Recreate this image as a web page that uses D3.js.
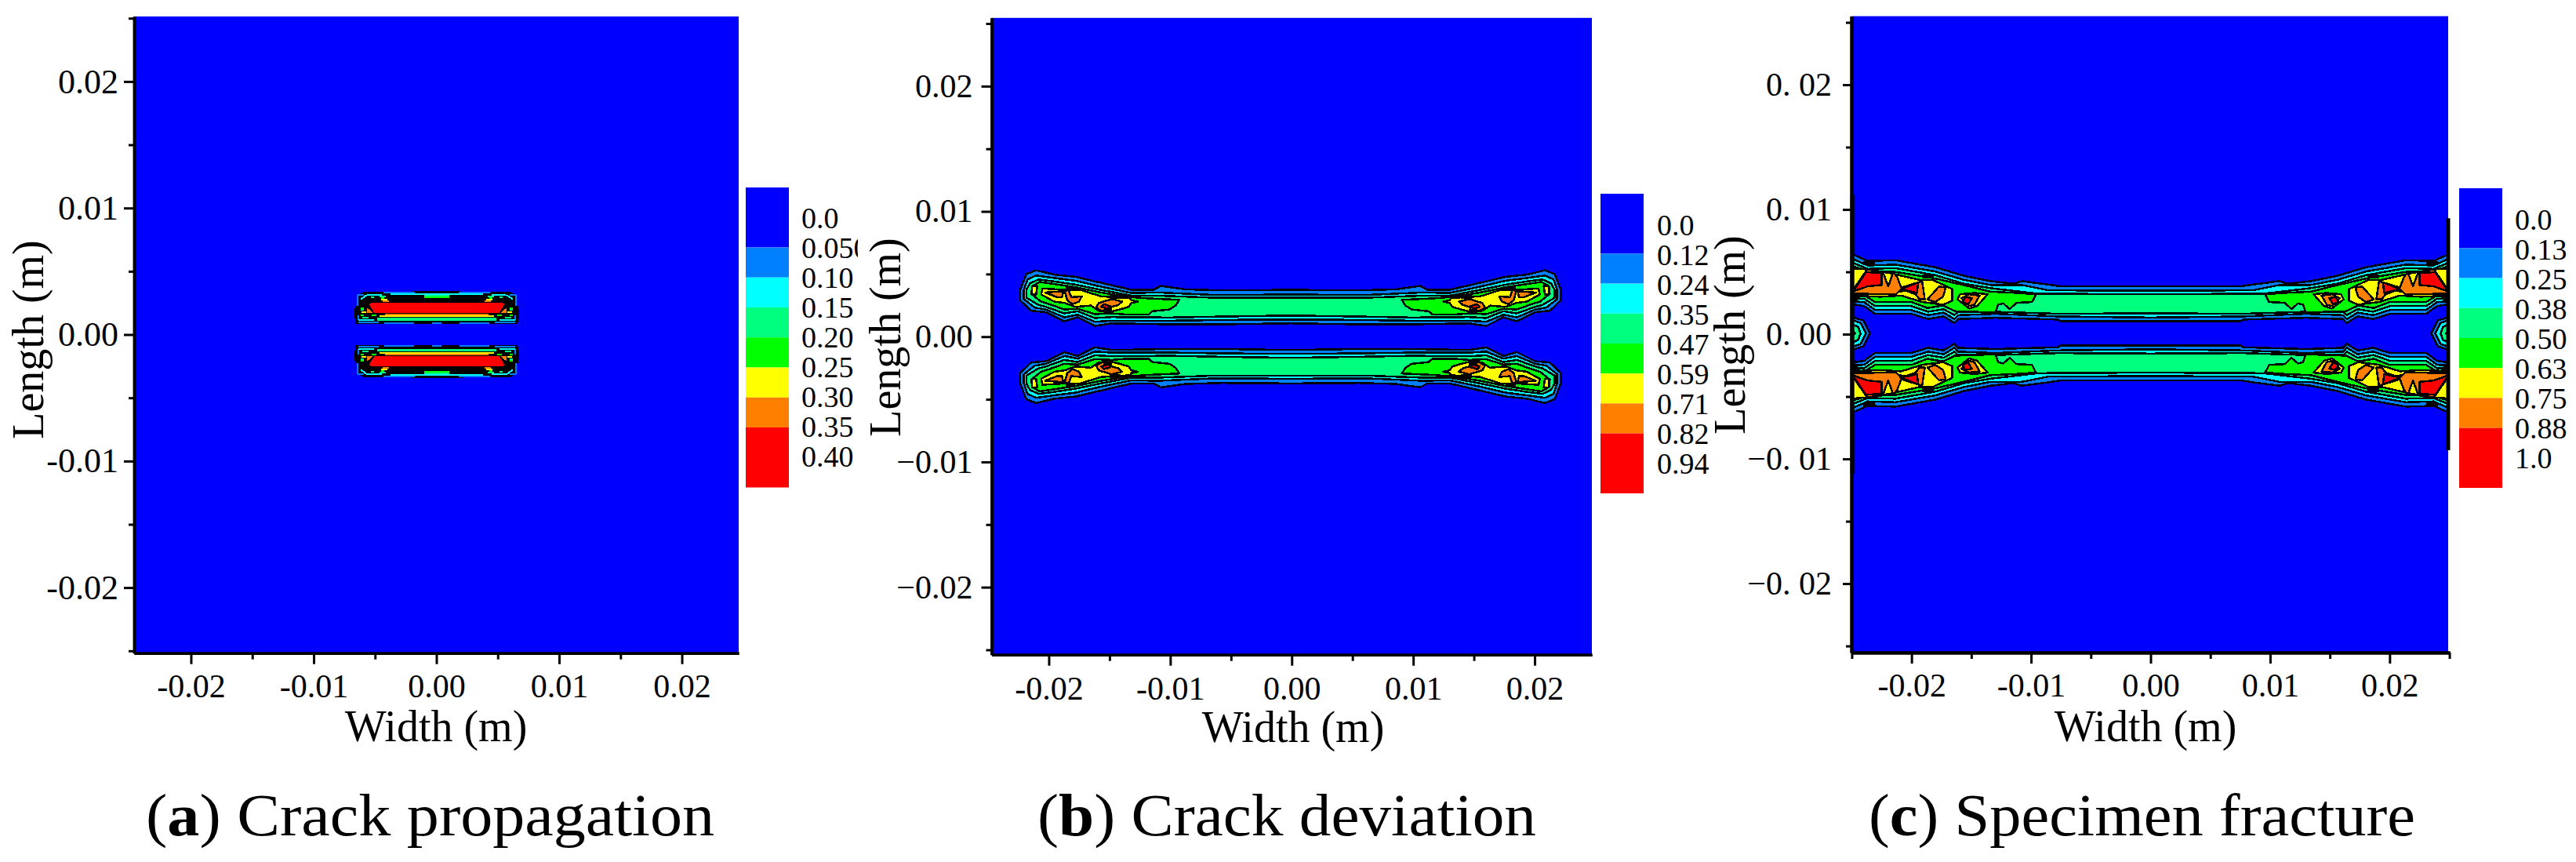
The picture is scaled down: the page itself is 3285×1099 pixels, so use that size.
<!DOCTYPE html>
<html>
<head>
<meta charset="utf-8">
<script src="https://cdnjs.cloudflare.com/ajax/libs/d3/7.8.5/d3.min.js"></script>
<style>
    html, body { margin: 0; padding: 0; background: #fff; }
    svg { display: block; }
    text { font-family: 'Liberation Serif', serif; fill: #000; }
</style>
</head>
<body>
<svg id="chart" width="3285" height="1099"></svg>
<script>
(function () {
    'use strict';

    const majorTicks = [-0.02, -0.01, 0, 0.01, 0.02];
    const minorTicks = [-0.025, -0.015, -0.005, 0.005, 0.015, 0.025];
    const hyphenLabels = ['-0.02', '-0.01', '0.00', '0.01', '0.02'];
    const minusLabels = ['\u22120.02', '\u22120.01', '0.00', '0.01', '0.02'];
    const spacedLabels = ['\u22120. 02', '\u22120. 01', '0. 00', '0. 01', '0. 02'];

    const levelColors = ['#0000ff', '#007fff', '#00ffff', '#00ff7f', '#00ff00', '#ffff00', '#ff7f00', '#ff0000'];
    const levelUnits = [2, 1, 1, 1, 1, 1, 1, 2];
    const aLegend = ['0.0', '0.050', '0.10', '0.15', '0.20', '0.25', '0.30', '0.35', '0.40'];
    const bLegend = ['0.0', '0.12', '0.24', '0.35', '0.47', '0.59', '0.71', '0.82', '0.94'];
    const cLegend = ['0.0', '0.13', '0.25', '0.38', '0.50', '0.63', '0.75', '0.88', '1.0'];

    // contours in mm from the crack centre, one quadrant only.
    // a ring that starts on x = 0 carries on through the mirrored side
    const aCore = [[[0, 3.41], [5.93, 3.35], [6.39, 3.12], [6.46, 2.26], [6.62, 2.26], [6.67, 1.44], [6.56, 0.86], [0, 0.86]]];
    const aOrange = [[[5.67, 2.16], [5.08, 1.68], [5.67, 1.64]]];
    const aRed = [[[0, 2.51], [5.29, 2.51], [5.54, 2.4], [5.08, 1.68], [0, 1.64]]];
    // level, x1, y1, x2, y2
    const aStreaks = [
        [1, 1.8, 3.29, 4.34, 3.29], [2, 0, 3.16, 3.77, 3.16], [3, 0, 3.04, 1.0, 3.04], [4, 0, 2.92, 1.0, 2.92],
        [5, 4.02, 2.73, 4.53, 2.73], [6, 3.89, 2.61, 4.4, 2.61], [6, 0, 1.56, 4.19, 1.56], [5, 0, 1.44, 4.66, 1.44],
        [3, 0, 1.29, 4.83, 1.29], [3, 0, 1.17, 4.83, 1.17], [1, 1.86, 0.88, 4.23, 0.88], [1, 0, 0.88, 0.38, 0.88],
        [1, 5.93, 3.12, 6.39, 3.12], [1, 6.39, 3.12, 6.39, 2.26], [1, 6.35, 1.54, 6.35, 1.13], [1, 4.7, 0.97, 6.35, 0.97],
        [2, 4.44, 3.12, 5.71, 3.08], [2, 5.71, 3.08, 6.14, 2.77], [5, 5.71, 1.75, 6.07, 1.75], [4, 4.91, 1.54, 5.29, 1.54],
        [4, 5.93, 2.05, 6.18, 2.05], [3, 5.93, 1.95, 6.18, 1.95], [3, 5.08, 2.92, 5.33, 2.92], [3, 4.13, 2.98, 4.66, 2.98],
        [4, 4.27, 2.85, 4.49, 2.85], [4, 5.93, 1.54, 6.14, 1.54], [2, 5.08, 1.17, 6.35, 1.13], [3, 5.5, 1.33, 6.03, 1.33]
    ];

    const bLevel1 = [[[0, 3.72], [5.6, 3.68], [8.6, 3.76], [10.6, 4.03], [11.2, 3.72], [13.0, 3.72], [15.3, 4.24], [17.6, 4.76], [19.3, 4.93], [20.8, 5.28], [21.6, 4.97], [22.1, 3.72], [22.1, 2.89], [21.2, 2.06], [20.0, 1.95], [18.5, 1.23], [17.4, 1.54], [16.0, 0.85], [14.6, 1.06], [9.9, 0.98], [5.6, 0.98], [0, 1.06]]];
    const bLevel2 = [[[0, 3.35], [6.1, 3.31], [10.8, 3.51], [13.0, 3.47], [15.3, 3.93], [17.6, 4.45], [19.3, 4.66], [20.8, 4.86], [21.5, 4.55], [21.8, 3.72], [21.8, 2.99], [20.9, 2.31], [20.0, 2.16], [18.5, 1.54], [17.4, 1.75], [16.0, 1.19], [14.6, 1.27], [9.9, 1.27], [5.6, 1.33], [0, 1.37]]];
    const bLevel3 = [[[0, 3.10], [6.3, 3.10], [10.8, 3.26], [13.0, 3.26], [15.5, 3.72], [17.6, 4.14], [19.3, 4.39], [20.6, 4.55], [21.3, 4.24], [21.6, 3.72], [21.6, 3.10], [20.6, 2.52], [20.0, 2.37], [18.5, 1.85], [17.4, 2.02], [16.0, 1.48], [14.6, 1.56], [9.9, 1.52], [5.6, 1.60], [0, 1.68]]];
    const bLevel4 = [[[9.1, 2.93], [11.6, 3.04], [13.0, 3.14], [15.5, 3.51], [17.6, 3.93], [19.3, 4.18], [20.5, 4.35], [21.1, 4.03], [21.2, 3.41], [20.4, 2.79], [19.7, 2.58], [18.5, 2.16], [17.4, 2.22], [16.0, 1.79], [14.6, 1.85], [13.3, 1.75], [11.6, 1.75], [11.3, 2.02], [9.9, 2.16], [9.4, 2.47]]];
    const bLevel5 = [
        [[12.48, 2.79], [13.0, 2.89], [13.12, 3.06], [14.19, 3.14], [15.47, 3.2], [17.18, 3.72], [18.46, 3.72], [20.28, 3.83], [20.38, 3.35], [19.32, 2.79], [18.46, 2.68], [17.6, 2.37], [16.32, 2.47], [15.68, 2.06], [14.83, 1.95], [13.97, 2.16], [13.23, 2.37], [13.01, 2.68]],
        [[20.7, 4.03], [21.13, 4.03], [21.13, 3.35], [20.8, 3.35]]
    ];
    const bLevel6 = [
        [[13.76, 2.79], [14.62, 2.99], [15.68, 2.68], [15.9, 2.31], [15.47, 2.06], [14.83, 2.02], [14.62, 2.37], [14.08, 2.52]],
        [[17.07, 3.2], [17.93, 3.14], [18.14, 3.72], [18.46, 3.62], [18.25, 2.89], [17.82, 2.58], [17.29, 2.79]],
        [[18.57, 3.62], [20.06, 3.51], [19.1, 3.14], [18.68, 3.14]]
    ];
    const bLevel7 = [[[14.72, 2.43], [15.26, 2.58], [15.47, 2.37], [14.94, 2.22]]];
    const bCrowded = [
        [[17.6, 4.0], [18.4, 4.1], [18.4, 3.7], [17.6, 3.7]],
        [[13.9, 3.3], [14.8, 3.3], [14.8, 3.0], [13.9, 3.0]],
        [[14.6, 2.2], [15.3, 2.2], [15.3, 1.85], [14.6, 1.85]]
    ];

    const cLevel1 = [
        [[0, 3.76], [7.5, 3.76], [8.5, 3.91], [10.7, 4.18], [11.4, 3.97], [13.3, 4.18], [15.5, 4.6], [17.9, 5.29], [21.2, 5.85], [23.5, 5.79], [25, 6.42], [25, 2.36], [23.8, 2.19], [22.9, 1.57], [19.9, 1.57], [18.5, 1.15], [17.2, 1.36], [16.3, 0.84], [16, 1.15], [12.9, 1.25], [7.7, 1.11], [7.5, 0.98], [0, 0.98]],
        [[25, 1.36], [23.87, 1.04], [23.33, 0], [23.87, -1.04], [25, -1.36]]
    ];
    const cLevel2 = [
        [[0, 3.41], [8.5, 3.45], [10.7, 3.87], [13.3, 3.87], [15.5, 4.28], [17.9, 4.95], [21.2, 5.5], [23.5, 5.43], [25, 6.06], [25, 2.57], [23.8, 2.51], [22.9, 1.88], [19.9, 1.88], [18.5, 1.46], [17.2, 1.67], [16.3, 1.15], [16, 1.46], [12.9, 1.57], [7.7, 1.36], [0, 1.27]],
        [[25, 1.15], [24.09, 0.84], [23.65, 0], [24.09, -0.84], [25, -1.15]]
    ];
    const cLevel3 = [
        [[0, 3.13], [9.4, 3.18], [13.3, 3.62], [15.5, 3.97], [17.9, 4.66], [21.2, 5.22], [23.5, 5.16], [25, 5.75], [25, 2.78], [23.8, 2.78], [22.9, 2.19], [19.9, 2.19], [18.5, 1.73], [17.2, 1.94], [16.3, 1.46], [16, 1.73], [12.9, 1.73], [7.7, 1.57], [0, 1.61]],
        [[25, 0.84], [24.3, 0.52], [24.09, 0], [24.3, -0.52], [25, -0.84]]
    ];
    const cLevel4 = [
        [[9.52, 3.13], [11.15, 3.24], [13.33, 3.34], [15.07, 3.76], [17.89, 4.39], [21.15, 4.91], [23.54, 5.02], [25, 5.43], [25, 2.93], [23.76, 3.03], [22.89, 2.51], [19.85, 2.51], [18.54, 2.03], [17.24, 2.24], [16.26, 1.78], [12.89, 1.67], [12.67, 2.3], [12.24, 2.4], [11.7, 1.94], [11.15, 2.45], [9.85, 2.51]],
        [[25, 0.31], [24.52, 0], [25, -0.31]]
    ];
    const cLevel5 = [
        [[13.54, 3.13], [14.63, 3.24], [15.83, 3.13], [16.04, 2.72], [15.07, 1.99], [14.41, 2.19]],
        [[16.48, 3.55], [18.11, 4.28], [19.2, 4.28], [21.59, 4.81], [23.54, 5.12], [25, 5.22], [25, 3.03], [22.46, 2.93], [20.72, 3.03], [18.98, 2.51], [17.24, 2.3], [16.48, 2.61]]
    ];
    const cLevel6 = [
        [[14.2, 3.03], [15.07, 3.13], [15.72, 2.82], [15.07, 2.19], [14.63, 2.3]],
        [[17.02, 3.66], [17.57, 3.76], [18.54, 2.72], [17.89, 2.51], [17.24, 2.93]],
        [[18.76, 2.72], [18.98, 4.18], [20.72, 3.66], [21.04, 4.49], [21.37, 4.91], [21.8, 3.76], [22.24, 4.91], [23.54, 5.12], [24.74, 3.45], [25, 3.2], [22.46, 3.13], [21.15, 3.13], [20.72, 3.55], [19.52, 3.13], [19.2, 2.72]]
    ];
    const cLevel7 = [
        [[14.85, 2.82], [15.39, 2.93], [15.61, 2.51], [15.17, 2.3]],
        [[19.3, 4.08], [20.39, 3.66], [20.83, 3.34], [20.28, 3.45], [19.41, 3.24]],
        [[22.35, 4.81], [23.65, 4.91], [24.74, 3.34], [23.54, 3.76], [22.35, 3.87]]
    ];
    const cCrowded = [
        [[18.0, 4.7], [19.0, 4.7], [19.0, 4.4], [18.0, 4.4]],
        [[23.9, 3.2], [25, 3.2], [25, 2.3], [24.6, 2.3]],
        [[22.9, 5.8], [23.9, 5.8], [23.9, 5.5], [22.9, 5.5]]
    ];
    // thick black runs on the specimen edge: x, half length (m)
    const cEdges = [[0.0249, 0.0093], [-0.02495, 0.0112]];

    const svg = d3.select('#chart');

    const panels = [
        {
            id: 'a', left: 171, right: 942, top: 21, bottom: 832.7, plotRight: 942,
            xDomain: [-0.02463, 0.02463], yDomain: [-0.02518, 0.02514], axisWidth: 3.5,
            centre: [0.03, 0], calib: [1.006, 1.006], lineWidth: 1,
            bands: [null, null, null, null, null, null, aOrange, aRed], core: aCore, streaks: aStreaks, crowded: [],
            yLabels: hyphenLabels, xLabels: hyphenLabels, yFont: 44, yPad: 7, yTick: 13,
            xLabelBase: 889.5, titleBase: 945, titleX: 556, lengthX: 55, lengthY: 433,
            bar: { x0: 951, x1: 1006, top: 239, bottom: 621.5, text: 1022, base: 291 }, legend: aLegend,
            caption: { letter: 'a', rest: ' Crack propagation', x: 186, len: 725 }
        },
        {
            id: 'b', left: 1264.5, right: 2030, top: 22.8, bottom: 834.7, plotRight: 2030,
            xDomain: [-0.02471, 0.02471], yDomain: [-0.02539, 0.02545], axisWidth: 3.5,
            centre: [-0.1, 0], calib: [1.007, 1.004], lineWidth: 2.5,
            bands: [null, bLevel1, bLevel2, bLevel3, bLevel4, bLevel5, bLevel6, bLevel7], crowded: bCrowded,
            yLabels: minusLabels, xLabels: hyphenLabels, yFont: 42, yPad: 11, yTick: 13,
            xLabelBase: 892, titleBase: 946, titleX: 1649, lengthX: 1148, lengthY: 430,
            bar: { x0: 2041, x1: 2096, top: 247, bottom: 629, text: 2113, base: 299.5 }, legend: bLegend,
            caption: { letter: 'b', rest: ' Crack deviation', x: 1323, len: 636 }
        },
        {
            id: 'c', left: 2361, right: 3124, top: 20.6, bottom: 832, plotRight: 3122,
            xDomain: [-0.02503, 0.02503], yDomain: [-0.02553, 0.0255], axisWidth: 4,
            centre: [0, 0.06], calib: [1.007, 1.003], lineWidth: 2.5,
            bands: [null, cLevel1, cLevel2, cLevel3, cLevel4, cLevel5, cLevel6, cLevel7], crowded: cCrowded,
            yLabels: spacedLabels, xLabels: hyphenLabels, yFont: 42, yPad: 14, yTick: 11,
            xLabelBase: 888, titleBase: 945, titleX: 2736, lengthX: 2225, lengthY: 427,
            bar: { x0: 3136, x1: 3191, top: 240, bottom: 622, text: 3207, base: 292.7 }, legend: cLegend,
            caption: { letter: 'c', rest: ' Specimen fracture', x: 2383, len: 697 },
            edges: cEdges
        }
    ];

    panels.forEach(drawPanel);

    function drawPanel(p) {
        const xScale = d3.scaleLinear().domain(p.xDomain).range([p.left, p.right]);
        const yScale = d3.scaleLinear().domain(p.yDomain).range([p.bottom, p.top]);
        const g = svg.append('g').attr('class', 'panel-' + p.id);

        g.append('clipPath').attr('id', 'clip-' + p.id)
            .append('rect')
            .attr('x', p.left).attr('y', p.top)
            .attr('width', p.plotRight - p.left).attr('height', p.bottom - p.top);

        g.append('rect')
            .attr('x', p.left).attr('y', p.top)
            .attr('width', p.plotRight - p.left).attr('height', p.bottom - p.top)
            .attr('fill', levelColors[0]);

        const plot = g.append('g')
            .attr('clip-path', `url(#clip-${p.id})`)
            .attr('shape-rendering', 'crispEdges');

        const line = d3.line()
            .x(d => xScale((p.centre[0] + d[0] * p.calib[0]) / 1000))
            .y(d => yScale((p.centre[1] + d[1] * p.calib[1]) / 1000));

        function drawRings(rings, fill, stroke) {
            [1, -1].forEach((sy) => {
                rings.forEach((ring) => {
                    const quadrant = ring.map(d => [d[0], sy * d[1]]);
                    const mirrored = quadrant.map(d => [-d[0], d[1]]);
                    const shapes = ring[0][0] === 0
                        ? [quadrant.concat(mirrored.reverse())]
                        : [quadrant, mirrored];
                    shapes.forEach((shape) => {
                        plot.append('path')
                            .attr('d', line(shape) + 'Z')
                            .attr('fill', fill)
                            .attr('stroke', stroke ? '#000' : 'none')
                            .attr('stroke-width', p.lineWidth)
                            .attr('stroke-linejoin', 'round');
                    });
                });
            });
        }

        if (p.core) {
            drawRings(p.core, '#000', false);
        }
        if (p.streaks) {
            [1, -1].forEach((sy) => {
                [1, -1].forEach((sx) => {
                    p.streaks.forEach((s) => {
                        plot.append('path')
                            .attr('d', line([[sx * s[1], sy * s[2]], [sx * s[3], sy * s[4]]]))
                            .attr('fill', 'none')
                            .attr('stroke', levelColors[s[0]])
                            .attr('stroke-width', 2);
                    });
                });
            });
        }
        p.bands.forEach((rings, i) => {
            if (rings) {
                drawRings(rings, levelColors[i], true);
            }
        });
        drawRings(p.crowded, '#000', false);

        (p.edges || []).forEach((e) => {
            g.append('line')
                .attr('x1', xScale(e[0])).attr('x2', xScale(e[0]))
                .attr('y1', yScale(e[1])).attr('y2', yScale(-e[1]))
                .attr('stroke', '#000')
                .attr('stroke-width', 5);
        });

        drawAxes(g, p, xScale, yScale);
        drawLegend(g, p);
        drawTexts(g, p);
    }

    function inDomain(domain) {
        return v => v >= domain[0] && v <= domain[1];
    }

    function drawAxes(g, p, xScale, yScale) {
        const xMinor = minorTicks.filter(inDomain(p.xDomain));
        const yMinor = minorTicks.filter(inDomain(p.yDomain));

        const xAxis = g.append('g')
            .attr('transform', `translate(0, ${p.bottom})`)
            .call(d3.axisBottom(xScale).tickValues(majorTicks).tickSize(14).tickSizeOuter(0)
                .tickFormat((d, i) => p.xLabels[i]));
        const yAxis = g.append('g')
            .attr('transform', `translate(${p.left}, 0)`)
            .call(d3.axisLeft(yScale).tickValues(majorTicks).tickSize(p.yTick).tickSizeOuter(0).tickPadding(p.yPad)
                .tickFormat((d, i) => p.yLabels[i]));
        const xMinorAxis = g.append('g')
            .attr('transform', `translate(0, ${p.bottom})`)
            .call(d3.axisBottom(xScale).tickValues(xMinor).tickSize(8).tickSizeOuter(0).tickFormat(''));
        const yMinorAxis = g.append('g')
            .attr('transform', `translate(${p.left}, 0)`)
            .call(d3.axisLeft(yScale).tickValues(yMinor).tickSize(7).tickSizeOuter(0).tickFormat(''));

        [xAxis, yAxis, xMinorAxis, yMinorAxis].forEach((axis) => {
            axis.select('.domain').attr('stroke-width', p.axisWidth).attr('stroke', '#000');
            axis.selectAll('.tick line').attr('stroke-width', 3).attr('stroke', '#000');
        });

        xAxis.selectAll('.tick text')
            .attr('dy', null)
            .attr('y', p.xLabelBase - p.bottom)
            .style('font-family', "'Liberation Serif', serif")
            .style('font-size', '42px');
        yAxis.selectAll('.tick text')
            .style('font-family', "'Liberation Serif', serif")
            .style('font-size', p.yFont + 'px');
    }

    function drawLegend(g, p) {
        const bar = p.bar;
        const total = d3.sum(levelUnits);
        const yBar = d3.scaleLinear().domain([0, total]).range([bar.top, bar.bottom]);
        const starts = [0].concat(Array.from(d3.cumsum(levelUnits)));

        g.selectAll('rect.swatch')
            .data(levelColors)
            .join('rect')
            .attr('class', 'swatch')
            .attr('x', bar.x0)
            .attr('width', bar.x1 - bar.x0)
            .attr('y', (d, i) => yBar(starts[i]))
            .attr('height', (d, i) => yBar(starts[i + 1]) - yBar(starts[i]))
            .attr('fill', d => d);

        g.append('clipPath').attr('id', 'legend-clip-' + p.id)
            .append('rect')
            .attr('x', bar.text - 2).attr('y', bar.top)
            .attr('width', 74).attr('height', 420);

        g.append('g')
            .attr('clip-path', `url(#legend-clip-${p.id})`)
            .selectAll('text')
            .data(p.legend)
            .join('text')
            .attr('x', bar.text)
            .attr('y', (d, i) => bar.base + i * 38)
            .attr('font-size', 38)
            .text(d => d);
    }

    function drawTexts(g, p) {
        g.append('text')
            .attr('x', p.titleX).attr('y', p.titleBase)
            .attr('text-anchor', 'middle')
            .attr('font-size', 56)
            .text('Width (m)');

        g.append('text')
            .attr('transform', `translate(${p.lengthX}, ${p.lengthY}) rotate(-90)`)
            .attr('text-anchor', 'middle')
            .attr('font-size', 56)
            .text('Length (m)');

        const caption = g.append('text')
            .attr('x', p.caption.x).attr('y', 1065)
            .attr('font-size', 76)
            .attr('textLength', p.caption.len)
            .attr('lengthAdjust', 'spacingAndGlyphs');
        caption.append('tspan').text('(');
        caption.append('tspan').attr('font-weight', 'bold').text(p.caption.letter);
        caption.append('tspan').text(')' + p.caption.rest);
    }
})();
</script>
</body>
</html>
